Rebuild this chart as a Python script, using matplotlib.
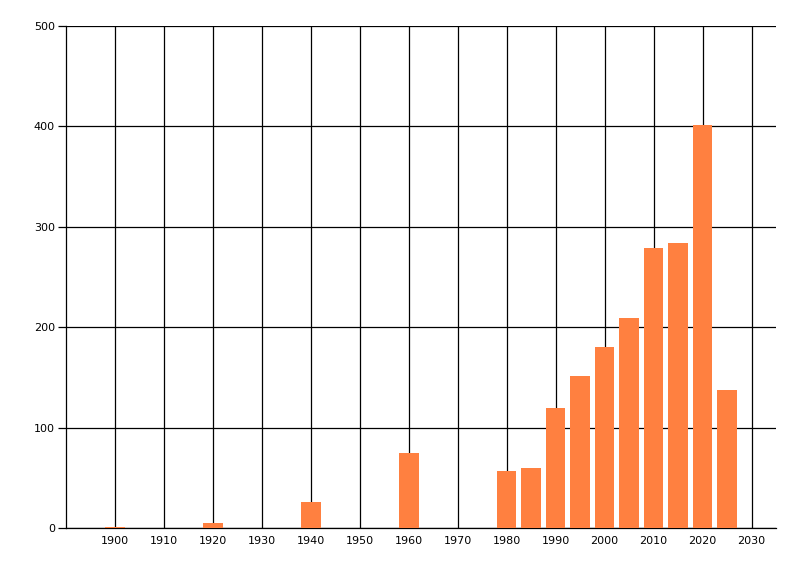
import matplotlib
matplotlib.use("Agg")
import matplotlib.pyplot as plt

years = [1900, 1920, 1940, 1960, 1980, 1985, 1990, 1995, 2000, 2005, 2010, 2015, 2020, 2025]
counts = [1, 5, 26, 75, 57, 60, 120, 151, 180, 209, 279, 284, 401, 137]
x_ticks = list(range(1900, 2031, 10))
y_ticks = [0, 100, 200, 300, 400, 500]

fig = plt.figure(figsize=(8, 5.76), dpi=100)
ax = fig.add_axes([66/800, 48/576, 710/800, 502/576])
ax.bar(years, counts, width=4, color="#FF8040", zorder=3)
ax.set_xlim(1890, 2035)
ax.set_ylim(0, 500)
ax.set_xticks(x_ticks)
ax.set_yticks(y_ticks)
ax.set_xticklabels([str(v) for v in x_ticks])
ax.grid(True, color="black", linewidth=0.9, zorder=0)
ax.set_axisbelow(True)
for s in ["top", "right"]:
    ax.spines[s].set_visible(False)
for s in ["left", "bottom"]:
    ax.spines[s].set_color("black")
    ax.spines[s].set_linewidth(0.9)
ax.tick_params(axis="x", length=0, pad=6, labelsize=8, colors="black")
ax.tick_params(axis="y", length=6, width=0.9, pad=2, labelsize=8, colors="black")
for lab in ax.get_xticklabels() + ax.get_yticklabels():
    lab.set_fontfamily("DejaVu Sans")
fig.savefig("out.png", dpi=100)
